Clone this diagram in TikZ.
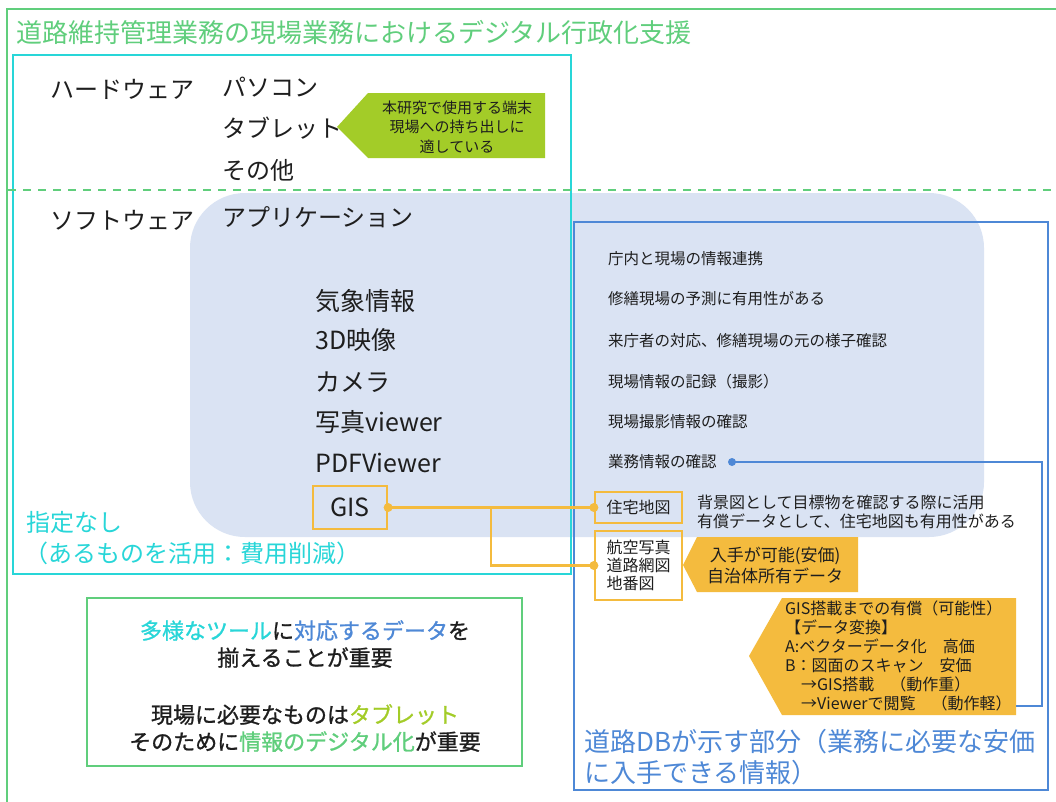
\documentclass[tikz,border=0pt]{standalone}
\usepackage{fontspec}
\setmainfont{Noto Sans CJK JP}
\newfontfamily\cjkbold[FakeBold=1]{Noto Sans CJK JP}
\definecolor{grn}{RGB}{96,206,124}
\definecolor{cyn}{RGB}{40,214,216}
\definecolor{lblue}{RGB}{218,227,243}
\definecolor{blu}{RGB}{78,136,214}
\definecolor{orng}{RGB}{244,187,62}
\definecolor{ygrn}{RGB}{163,204,40}
\definecolor{txt}{RGB}{30,30,30}
\tikzset{
  lbl/.style={anchor=west, inner sep=0pt, text=txt, font=\fontsize{24}{28}\selectfont},
  item/.style={anchor=west, inner sep=0pt, text=txt, font=\fontsize{25}{29}\selectfont},
  note/.style={anchor=west, inner sep=0pt, text=txt, font=\fontsize{15.5}{19}\selectfont},
  small/.style={inner sep=0pt, text=txt, font=\fontsize{16}{19}\selectfont},
  obox/.style={draw=orng, line width=2.2pt},
  oline/.style={draw=orng, line width=2.4pt},
  bline/.style={draw=blu, line width=2.4pt},
  dotc/.style={circle, inner sep=0pt, minimum size=9pt, fill=#1},
}
\begin{document}
\begin{tikzpicture}[x=1pt,y=-1pt]
\useasboundingbox (0,0) rectangle (1056,801);
\fill[white] (0,0) rectangle (1056,801);
% light blue application area
\fill[lblue, rounded corners=55pt] (190,193) rectangle (984,537);
% outer green frame
\draw[grn, line width=2.8pt] (7,9) rectangle (1080,830);
% title
\node[anchor=west, inner sep=0pt, text=grn, font=\fontsize{26}{30}\selectfont] (title) at (16,33) {道路維持管理業務の現場業務におけるデジタル行政化支援};
% cyan frame
\draw[cyn, line width=2.8pt] (13,55) rectangle (571,574);
% dashed separator
\draw[grn, line width=1.8pt, dash pattern=on 8pt off 7pt] (8,190) -- (1056,190);
% blue frame
\draw[blu, line width=2.8pt] (574,222) rectangle (1048,790);

% hardware
\node[lbl] (hw) at (50,89) {ハードウェア};
\node[lbl] (pc) at (222,87) {パソコン};
\node[lbl] (tab) at (222,128) {タブレット};
\node[lbl] (oth) at (222,170) {その他};
\fill[ygrn] (337,127) -- (368,93) -- (545,93) -- (545,158) -- (368,158) -- cycle;
\node[inner sep=0pt, text=txt, align=center, font=\fontsize{15}{19.5}\selectfont] (co0) at (457,127) {本研究で使用する端末\\現場への持ち出しに\\適している};

% software
\node[lbl] (sw) at (50,220) {ソフトウェア};
\node[lbl] (app) at (222,217) {アプリケーション};
\node[item] (i1) at (315,301) {気象情報};
\node[item] (i2) at (315,340) {3D映像};
\node[item] (i3) at (315,382) {カメラ};
\node[item] (i4) at (315,422) {写真viewer};
\node[item] (i5) at (315,463) {PDFViewer};
\node[obox, inner sep=0pt, minimum width=74pt, minimum height=43pt, text=txt, font=\fontsize{25}{29}\selectfont] (gis) at (350,507.5) {GIS};

% cyan labels
\node[anchor=west, inner sep=0pt, text=cyn, align=left, font=\fontsize{24}{31}\selectfont] (shitei) at (24,538) {\hspace*{2pt}指定なし\\（あるものを活用：費用削減）};

% right column notes
\node[note] (r1) at (608,259) {庁内と現場の情報連携};
\node[note] (r2) at (608,299) {修繕現場の予測に有用性がある};
\node[note] (r3) at (608,341) {来庁者の対応、修繕現場の元の様子確認};
\node[note] (r4) at (608,382) {現場情報の記録（撮影）};
\node[note] (r5) at (608,422) {現場撮影情報の確認};
\node[note] (r6) at (608,462) {業務情報の確認};
\coordinate (bdot) at (732,462);

% data boxes
\node[obox, inner sep=0pt, minimum width=87pt, minimum height=31pt, small] (jutaku) at (638.5,507.5) {住宅地図};
\node[anchor=west, inner sep=0pt, text=txt, align=left, font=\fontsize{16}{19.5}\selectfont] (haikei) at (697,512) {背景図として目標物を確認する際に活用\\有償データとして、住宅地図も有用性がある};
\node[obox, inner sep=0pt, minimum width=87pt, minimum height=69pt, small, align=left, font=\fontsize{16}{18}\selectfont] (koku) at (638.5,565.5) {航空写真\\道路網図\\地番図};

% GIS connectors
\draw[oline] (gis.east) -- (jutaku.west);
\coordinate (br) at (491,507.5);
\draw[oline] (br) |- (koku.west);
\node[dotc=orng] (gd1) at (gis.east) {};
\node[dotc=orng] (gd2) at (jutaku.west) {};
\node[dotc=orng] (gd3) at (koku.west) {};

% orange callout 1
\fill[orng] (683,565) -- (697,537) -- (858,537) -- (858,592) -- (697,592) -- cycle;
\node[inner sep=0pt, text=txt, align=center, font=\fontsize{17}{21}\selectfont] (co1) at (775,565) {入手が可能(安価)\\自治体所有データ};

% orange callout 2
\fill[orng] (749,656) -- (782,598) -- (1016,598) -- (1016,715) -- (782,715) -- cycle;
\coordinate (co2e) at (1016,706);
\node[anchor=north west, inner sep=0pt, text=txt, align=left, font=\fontsize{16}{19}\selectfont] (co2) at (785,601) {GIS搭載までの有償（可能性）\\【データ変換】\\A:ベクターデータ化　高価\\B：図面のスキャン　安価\\　→GIS搭載　（動作重）\\　→Viewerで閲覧　（動作軽）};

% blue connector
\draw[bline] (bdot) -- (1042,462) |- (co2e);
\node[dotc=blu, minimum size=8pt] (bd) at (bdot) {};

% blue caption
\node[anchor=west, inner sep=0pt, text=blu, align=left, font=\fontsize{26}{31}\selectfont] (dbcap) at (584,757) {道路DBが示す部分（業務に必要な安価\\に入手できる情報）};

% bottom-left message box
\draw[grn, line width=2.8pt] (87,598) rectangle (522,766);
\node[inner sep=0pt, text=txt, align=center, font=\cjkbold\fontsize{22}{27}\selectfont] (msg1) at (305,644) {{\color{cyn}多様なツール}に{\color{blu}対応するデータ}を\\揃えることが重要};
\node[inner sep=0pt, text=txt, align=center, font=\cjkbold\fontsize{22}{27}\selectfont] (msg2) at (305,728) {現場に必要なものは{\color{ygrn}タブレット}\\そのために{\color{grn}情報のデジタル化}が重要};
\end{tikzpicture}
\end{document}
